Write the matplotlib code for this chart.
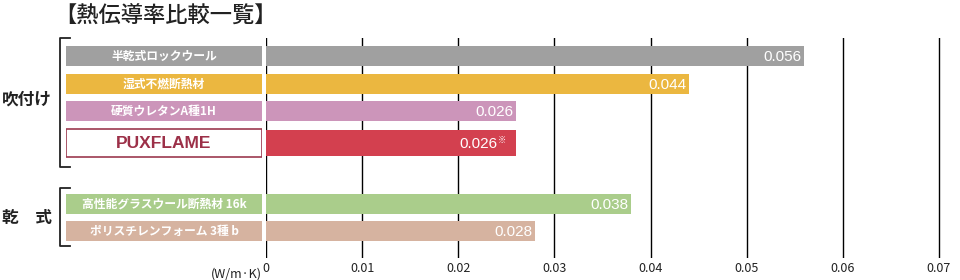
import matplotlib.pyplot as plt
from matplotlib.transforms import blended_transform_factory

plt.rcParams['font.family'] = ['Noto Sans CJK JP', 'DejaVu Sans']

# data
categories = ['半乾式ロックウール', '湿式不燃断熱材', '硬質ウレタンA種1H', 'PUXFLAME',
              '高性能グラスウール断熱材 16k', 'ポリスチレンフォーム 3種 b']
values = [0.056, 0.044, 0.026, 0.026, 0.038, 0.028]
value_labels = ['0.056', '0.044', '0.026', '0.026', '0.038', '0.028']
groups = ['吹付け', '乾　式']
group_rows = [[0, 1, 2, 3], [4, 5]]
xticks = [0, 0.01, 0.02, 0.03, 0.04, 0.05, 0.06, 0.07]
xticklabels = ['0', '0.01', '0.02', '0.03', '0.04', '0.05', '0.06', '0.07']

# styles / layout (pixel rows)
colors = ['#a0a0a0', '#ebb740', '#cc95ba', '#d3404f', '#aacd8b', '#d6b3a0']
ypos = [56, 84, 111, 143, 204, 231]
heights = [20, 20, 20, 26, 20, 20]
highlight = 3

W, H = 960, 280
fig = plt.figure(figsize=(9.6, 2.8), dpi=100)

top, bot = 38, 258
ax = fig.add_axes([266 / W, 1 - bot / H, (941 - 266) / W, (bot - top) / H])
ax.set_xlim(0, 0.07 * 675 / 673)
ax.set_ylim(bot, top)
ax.barh(ypos, values, height=heights, color=colors, zorder=2)
ax.set_xticks(xticks)
ax.set_xticklabels(xticklabels, fontsize=9, color='#222222')
ax.set_yticks([])
ax.tick_params(axis='x', length=0, pad=3)
ax.grid(axis='x', color='black', lw=1)
ax.set_axisbelow(True)
for s in ax.spines.values():
    s.set_visible(False)
ax.axvline(0, color='black', lw=1.2, zorder=1)

vfam = ['Liberation Sans', 'DejaVu Sans']
for i, (v, lab) in enumerate(zip(values, value_labels)):
    if i == highlight:
        ax.text(v - 0.0019, ypos[i] + 1, lab, ha='right', va='center',
                color='white', fontsize=11, family=vfam)
        ax.text(v - 0.00185, ypos[i] - 3, '※', ha='left', va='center',
                color='white', fontsize=6)
    else:
        ax.text(v - 0.0003, ypos[i] + 1, lab, ha='right', va='center',
                color='white', fontsize=11, family=vfam)

trans = blended_transform_factory(ax.transAxes, ax.transAxes)
ax.text(-0.006, -0.045, '(W/m·K)', transform=trans, ha='right', va='top',
        fontsize=9, color='#222222')

# category label boxes
axl = fig.add_axes([66 / W, 1 - bot / H, (262 - 66) / W, (bot - top) / H], sharey=ax)
axl.set_xlim(0, 1)
axl.axis('off')
for i, cat in enumerate(categories):
    if i == highlight:
        axl.barh(ypos[i], 1, height=heights[i] + 2, color='white',
                 edgecolor='#9c3a4f', lw=1.2)
        axl.text(0.5, ypos[i] + 1, cat, ha='center', va='center', color='#9c3048',
                 fontsize=12.5, fontweight='bold', family=vfam)
    else:
        axl.barh(ypos[i], 1, height=heights[i], color=colors[i])
        axl.text(0.5, ypos[i], cat, ha='center', va='center', color='white',
                 fontsize=8.5, fontweight='bold')

# overlay: title, brackets, group labels
axo = fig.add_axes([0, 0, 1, 1], zorder=-1)
axo.set_xlim(0, W)
axo.set_ylim(H, 0)
axo.axis('off')
axo.text(54, 16, '【熱伝導率比較一覧】', ha='left', va='center', fontsize=16,
         fontweight='medium', color='#222222')
brackets = [(38, 167), (188, 246)]
for g, rows, (y0, y1) in zip(groups, group_rows, brackets):
    axo.plot([70, 60, 60, 70], [y0, y0, y1, y1], color='#222222', lw=1.3)
    yc = sum(ypos[r] for r in rows) / len(rows)
    axo.text(27, yc + 1, g, ha='center', va='center', fontsize=12,
             fontweight='bold', color='#222222')

fig.savefig('out.png', dpi=100)
